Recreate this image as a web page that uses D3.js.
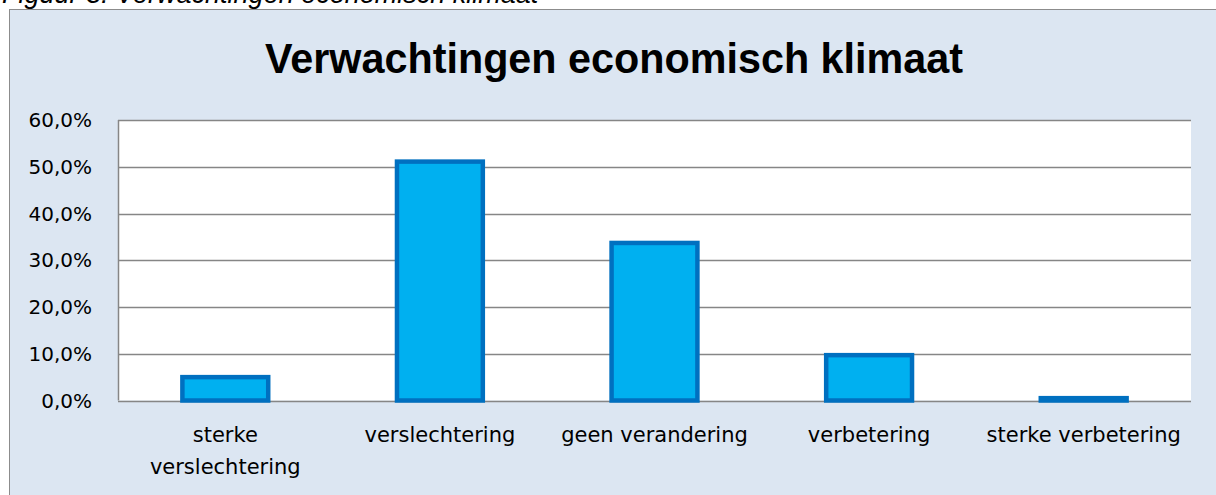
<!DOCTYPE html>
<html>
<head>
<meta charset="utf-8">
<script src="https://cdn.jsdelivr.net/npm/d3@7"></script>
<style>
  body { margin: 0; background: #fff; }
  svg { display: block; }
</style>
</head>
<body>
<div id="chart"><svg width="1216" height="495"></svg></div>
<script>
const categories = [["sterke", "verslechtering"], ["verslechtering"], ["geen verandering"], ["verbetering"], ["sterke verbetering"]];
const values = [5.0, 51.1, 33.7, 9.7, 0.5];
const yTicks = [0, 10, 20, 30, 40, 50, 60];

const svg = d3.select("#chart svg");
const plot = {left: 118, right: 1191, top: 120, bottom: 400.5};

// caption above the chart, mostly cut off
svg.append("text")
    .attr("x", 2).attr("y", 3)
    .attr("font-family", "Liberation Sans, Arial, sans-serif")
    .attr("font-style", "italic")
    .attr("font-size", 27)
    .attr("fill", "#000")
    .text("Figuur 3: Verwachtingen economisch klimaat");

// chart frame
svg.append("rect")
    .attr("x", 9.5).attr("y", 9.5)
    .attr("width", 1230).attr("height", 520)
    .attr("fill", "#dce6f2")
    .attr("stroke", "#8c8c8c");

svg.append("text")
    .attr("x", 614).attr("y", 73)
    .attr("text-anchor", "middle")
    .attr("font-family", "Liberation Sans Narrow, Arial Narrow, sans-serif")
    .attr("font-weight", "bold")
    .attr("font-size", 43)
    .attr("textLength", 698)
    .attr("lengthAdjust", "spacingAndGlyphs")
    .text("Verwachtingen economisch klimaat");

const x = d3.scaleBand()
    .domain(d3.range(categories.length))
    .range([plot.left, plot.right])
    .paddingInner(0.6).paddingOuter(0.3);

const y = d3.scaleLinear().domain([0, 60]).range([plot.bottom, plot.top]);

svg.append("rect")
    .attr("x", plot.left).attr("y", plot.top)
    .attr("width", plot.right - plot.left).attr("height", plot.bottom - plot.top)
    .attr("fill", "#fff");

svg.append("g").selectAll("line")
    .data(yTicks)
    .join("line")
    .attr("x1", plot.left).attr("x2", plot.right)
    .attr("y1", d => Math.round(y(d)) + 0.5).attr("y2", d => Math.round(y(d)) + 0.5)
    .attr("stroke", "#868686")
    .attr("stroke-width", 1.5);

svg.append("line")
    .attr("x1", plot.left + 0.5).attr("x2", plot.left + 0.5)
    .attr("y1", plot.top).attr("y2", plot.bottom)
    .attr("stroke", "#868686").attr("stroke-width", 1.5);

svg.append("g").selectAll("text")
    .data(yTicks)
    .join("text")
    .attr("x", 92).attr("y", d => y(d) + 7)
    .attr("text-anchor", "end")
    .attr("font-family", "DejaVu Sans, sans-serif")
    .attr("font-size", 20)
    .attr("fill", "#000")
    .text(d => d.toFixed(1).replace(".", ",") + "%");

svg.append("g").selectAll("rect")
    .data(values)
    .join("rect")
    .attr("x", (d, i) => x(i))
    .attr("y", d => y(d))
    .attr("width", x.bandwidth())
    .attr("height", d => y(0) - y(d))
    .attr("fill", "#00b0f0")
    .attr("stroke", "#0070c0")
    .attr("stroke-width", 4.5);

const labels = svg.append("g").selectAll("text")
    .data(categories)
    .join("text")
    .attr("text-anchor", "middle")
    .attr("font-family", "DejaVu Sans, sans-serif")
    .attr("font-size", 21)
    .attr("fill", "#000");

labels.selectAll("tspan")
    .data((d, i) => d.map(line => ({line, i})))
    .join("tspan")
    .attr("x", d => x(d.i) + x.bandwidth() / 2)
    .attr("y", (d, j) => 442 + j * 32)
    .text(d => d.line);
</script>
</body>
</html>
